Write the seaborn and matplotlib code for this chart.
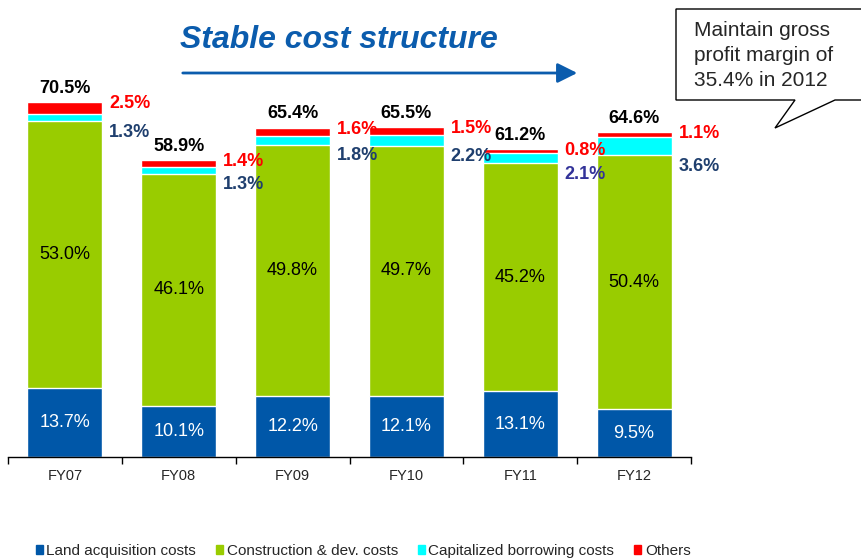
import matplotlib
matplotlib.use('Agg')
import matplotlib.pyplot as plt
import matplotlib.patches as mpatches
import numpy as np
import pandas as pd
import seaborn as sns

# data
years = ['FY07', 'FY08', 'FY09', 'FY10', 'FY11', 'FY12']
land = [13.7, 10.1, 12.2, 12.1, 13.1, 9.5]
construction = [53.0, 46.1, 49.8, 49.7, 45.2, 50.4]
borrowing = [1.3, 1.3, 1.8, 2.2, 2.1, 3.6]
others = [2.5, 1.4, 1.6, 1.5, 0.8, 1.1]
totals = [70.5, 58.9, 65.4, 65.5, 61.2, 64.6]
series_names = ['Land acquisition costs', 'Construction & dev. costs',
                'Capitalized borrowing costs', 'Others']
callout_lines = ['Maintain gross', 'profit margin of', '35.4% in 2012']

BLUE = '#0057A8'
GREEN = '#99CC00'
CYAN = '#00FFFF'
RED = '#FF0000'
NAVY = '#1F3F6E'
TITLE_BLUE = '#0B5CAD'

sns.set_theme(style='white')
plt.rcParams['font.family'] = ['Liberation Sans', 'DejaVu Sans']

df = pd.DataFrame({'year': years, 'land': land, 'cons': construction,
                   'borr': borrowing, 'oth': others})
df['c1'] = df['land']
df['c2'] = df['c1'] + df['cons']
df['c3'] = df['c2'] + df['borr']
df['c4'] = df['c3'] + df['oth']

fig = plt.figure(figsize=(8.61, 5.58), dpi=100)
ax = fig.add_axes([8/861, 101/558, 683/861, 400/558])

# draw cumulative bars back to front
for col, colr in [('c4', RED), ('c3', CYAN), ('c2', GREEN), ('c1', BLUE)]:
    sns.barplot(data=df, x='year', y=col, color=colr, width=0.66,
                edgecolor='white', linewidth=1, saturation=1, ax=ax)

ax.set_xlim(-0.5, 5.5)
ax.set_ylim(0, 79.4)
ax.set_xlabel('')
ax.set_ylabel('')
ax.set_yticks([])
for s in ['top', 'right', 'left']:
    ax.spines[s].set_visible(False)
ax.spines['bottom'].set_color('black')
ax.spines['bottom'].set_linewidth(1)
ax.set_xticks(np.arange(-0.5, 6, 1))
ax.set_xticklabels([])
ax.set_xticks(range(len(years)), minor=True)
ax.set_xticklabels(years, minor=True, fontsize=10.5)
ax.tick_params(axis='x', which='major', direction='out', length=5, width=1,
               color='black', bottom=True)
ax.tick_params(axis='x', which='minor', length=0, pad=9)

# labels
for i in range(len(years)):
    ax.text(i, land[i] / 2, f'{land[i]:.1f}%', ha='center', va='center',
            color='white', fontsize=13)
    ax.text(i, land[i] + construction[i] / 2, f'{construction[i]:.1f}%',
            ha='center', va='center', color='black', fontsize=13)
    ax.text(i, totals[i] + 1.0, f'{totals[i]:.1f}%', ha='center', va='bottom',
            color='black', fontsize=13, fontweight='bold')
    ax.text(i + 0.39, totals[i] - 0.3, f'{others[i]:.1f}%', ha='left', va='center',
            color=RED, fontsize=13, fontweight='bold')
    gtop = land[i] + construction[i]
    ax.text(i + 0.39, gtop - 2.2, f'{borrowing[i]:.1f}%', ha='left',
            va='center', color='#333399' if i == 4 else NAVY,
            fontsize=13, fontweight='bold')

# title and arrow
fig.text(180/861, 1 - 40/558, 'Stable cost structure', fontsize=23,
         fontweight='bold', fontstyle='italic', color=TITLE_BLUE,
         ha='left', va='center')
fig.add_artist(mpatches.FancyArrowPatch((180/861, 1 - 73/558), (580/861, 1 - 73/558),
               transform=fig.transFigure, arrowstyle='-|>,head_length=8,head_width=4',
               color=TITLE_BLUE, linewidth=2, mutation_scale=1.5))

# callout box
pts = [(676, 9), (880, 9), (880, 100), (835, 100), (775, 128), (795, 100), (676, 100)]
poly = mpatches.Polygon([(x/861, 1 - y/558) for x, y in pts], closed=True,
                        transform=fig.transFigure, facecolor='white',
                        edgecolor='black', linewidth=1)
fig.add_artist(poly)
for k, line in enumerate(callout_lines):
    fig.text(694/861, 1 - (30 + 25.5 * k)/558, line, fontsize=15,
             ha='left', va='center')

# legend
handles = [mpatches.Patch(color=c, label=n) for c, n in
           zip([BLUE, GREEN, CYAN, RED], series_names)]
fig.legend(handles=handles, loc='center left', bbox_to_anchor=(28/861, 7/558),
           ncol=4, frameon=False, fontsize=11, handlelength=0.45, handleheight=0.45,
           handletextpad=0.25, columnspacing=1.3, borderpad=0)

fig.savefig('out.png', dpi=100)
